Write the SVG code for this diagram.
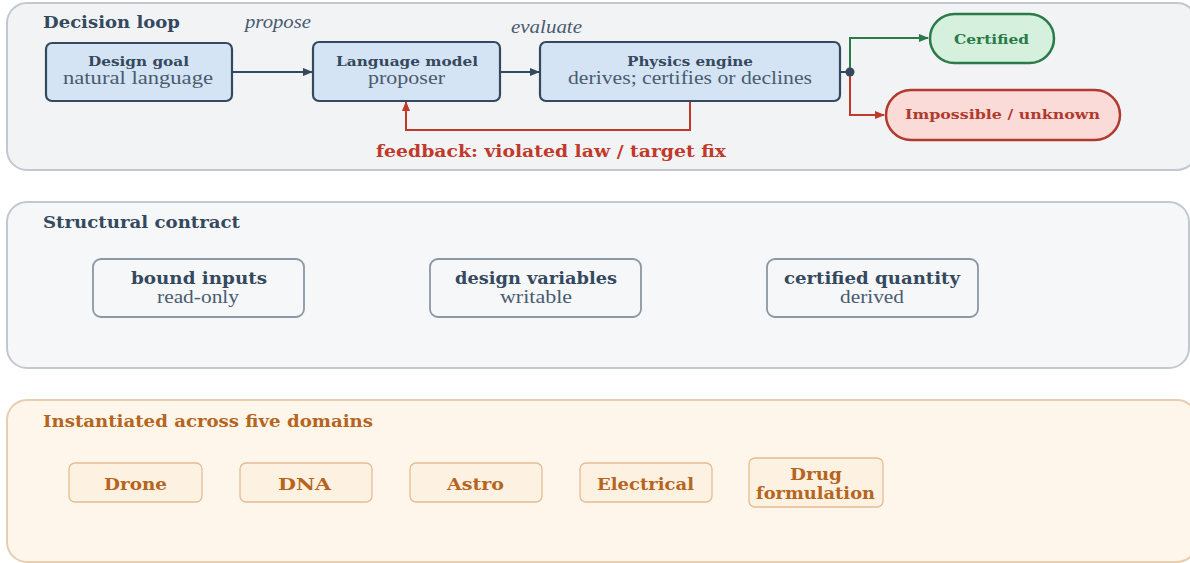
<svg xmlns="http://www.w3.org/2000/svg" width="1190" height="563" viewBox="0 0 1190 563" font-family="'DejaVu Serif', 'Liberation Serif', serif">
<defs>
<style>
.b{font-weight:bold}
.it{font-style:italic}
.dark{fill:#34495e}
.sub{fill:#4a5b70}
.panel1{fill:#f2f3f5;stroke:#c2c8d0;stroke-width:2}
.panel2{fill:#f5f7f9;stroke:#c2c8d0;stroke-width:2}
.panel3{fill:#fef5eb;stroke:#e8cdb0;stroke-width:2}
.blue{fill:#d4e4f4;stroke:#34495e;stroke-width:2.2}
.cnode{fill:#f5f7f9;stroke:#8a97a6;stroke-width:1.8}
.dnode{fill:#fdf1e2;stroke:#e2bd95;stroke-width:1.3}
.dtxt{fill:#b5651d;font-weight:bold;font-size:17px}
.conn{fill:none;stroke-width:2}
</style>
<marker id="ad" viewBox="0 0 10 10" refX="9" refY="5" markerWidth="10" markerHeight="10" markerUnits="userSpaceOnUse" orient="auto"><path d="M0,1 L10,5 L0,9 z" fill="#34495e"/></marker>
<marker id="ag" viewBox="0 0 10 10" refX="9" refY="5" markerWidth="10" markerHeight="10" markerUnits="userSpaceOnUse" orient="auto"><path d="M0,1 L10,5 L0,9 z" fill="#2a7a4a"/></marker>
<marker id="ar" viewBox="0 0 10 10" refX="9" refY="5" markerWidth="10" markerHeight="10" markerUnits="userSpaceOnUse" orient="auto"><path d="M0,1 L10,5 L0,9 z" fill="#c0392b"/></marker>
</defs>

<g id="panel-decision">
<rect class="panel1" x="7" y="3" width="1190" height="167" rx="20"/>
<text class="b dark" x="43" y="28" font-size="17" textLength="137" lengthAdjust="spacingAndGlyphs">Decision loop</text>
</g>
<g id="panel-contract">
<rect class="panel2" x="7" y="202" width="1182" height="166" rx="20"/>
<text class="b dark" x="43" y="228" font-size="17" textLength="197" lengthAdjust="spacingAndGlyphs">Structural contract</text>
</g>
<g id="panel-domains">
<rect class="panel3" x="7" y="400" width="1190" height="162" rx="20"/>
<text x="43" y="427" font-size="17" font-weight="bold" fill="#b5651d" textLength="330" lengthAdjust="spacingAndGlyphs">Instantiated across five domains</text>
</g>

<g id="connectors">
<path class="conn" d="M232,72 L312,72" stroke="#34495e" marker-end="url(#ad)"/>
<path class="conn" d="M500,72 L539,72" stroke="#34495e" marker-end="url(#ad)"/>
<path class="conn" d="M840,72 L850,72" stroke="#34495e" stroke-width="2.5"/>
<path class="conn" d="M850,72 L850,38 L928,38" stroke="#2a7a4a" stroke-width="2.5" marker-end="url(#ag)"/>
<path class="conn" d="M850,72 L850,115 L884,115" stroke="#c0392b" stroke-width="2.5" marker-end="url(#ar)"/>
<circle cx="850" cy="72" r="4.5" fill="#34495e"/>
<path class="conn" d="M690,101 L690,130 L406,130 L406,102" stroke="#c0392b" stroke-width="2.5" marker-end="url(#ar)"/>
<text class="it sub" font-family="'Liberation Serif', serif" x="245" y="28" font-size="19" textLength="66" lengthAdjust="spacingAndGlyphs">propose</text>
<text class="it sub" font-family="'Liberation Serif', serif" x="511" y="33" font-size="19" textLength="71" lengthAdjust="spacingAndGlyphs">evaluate</text>
<text class="b" x="376" y="157" font-size="17" fill="#c0392b" textLength="350" lengthAdjust="spacingAndGlyphs">feedback: violated law / target fix</text>
</g>

<g id="node-design-goal">
<rect class="blue" x="46" y="43" width="186" height="58" rx="6"/>
<text class="b dark" x="88" y="66" font-size="13.5" textLength="101" lengthAdjust="spacingAndGlyphs">Design goal</text>
<text class="sub" font-family="'Liberation Serif', serif" x="63" y="84" font-size="19" textLength="150" lengthAdjust="spacingAndGlyphs">natural language</text>
</g>
<g id="node-language-model">
<rect class="blue" x="313" y="42" width="187" height="59" rx="6"/>
<text class="b dark" x="336" y="66" font-size="13.5" textLength="142" lengthAdjust="spacingAndGlyphs">Language model</text>
<text class="sub" font-family="'Liberation Serif', serif" x="368" y="84" font-size="19" textLength="77" lengthAdjust="spacingAndGlyphs">proposer</text>
</g>
<g id="node-physics-engine">
<rect class="blue" x="540" y="42" width="300" height="59" rx="6"/>
<text class="b dark" x="627" y="66" font-size="13.5" textLength="126" lengthAdjust="spacingAndGlyphs">Physics engine</text>
<text class="sub" font-family="'Liberation Serif', serif" x="568" y="84" font-size="19" textLength="244" lengthAdjust="spacingAndGlyphs">derives; certifies or declines</text>
</g>
<g id="node-certified">
<rect x="930" y="14" width="124" height="49" rx="24.5" fill="#d5f0dc" stroke="#2a7a4a" stroke-width="2.5"/>
<text x="954" y="44" font-size="13.5" font-weight="bold" fill="#2a7a4a" textLength="75" lengthAdjust="spacingAndGlyphs">Certified</text>
</g>
<g id="node-impossible">
<rect x="886" y="90" width="234" height="50" rx="25" fill="#fadbd8" stroke="#b03a2e" stroke-width="2.5"/>
<text x="905" y="119" font-size="13.5" font-weight="bold" fill="#b03a2e" textLength="195" lengthAdjust="spacingAndGlyphs">Impossible / unknown</text>
</g>

<g id="node-bound-inputs">
<rect class="cnode" x="93" y="259" width="211" height="58" rx="8"/>
<text class="b dark" x="131" y="284" font-size="17" textLength="136" lengthAdjust="spacingAndGlyphs">bound inputs</text>
<text class="sub" font-family="'Liberation Serif', serif" x="157" y="303" font-size="18" textLength="82" lengthAdjust="spacingAndGlyphs">read-only</text>
</g>
<g id="node-design-variables">
<rect class="cnode" x="430" y="259" width="211" height="58" rx="8"/>
<text class="b dark" x="455" y="284" font-size="17" textLength="162" lengthAdjust="spacingAndGlyphs">design variables</text>
<text class="sub" font-family="'Liberation Serif', serif" x="500" y="303" font-size="18" textLength="72" lengthAdjust="spacingAndGlyphs">writable</text>
</g>
<g id="node-certified-quantity">
<rect class="cnode" x="767" y="259" width="211" height="58" rx="8"/>
<text class="b dark" x="784" y="284" font-size="17" textLength="176" lengthAdjust="spacingAndGlyphs">certified quantity</text>
<text class="sub" font-family="'Liberation Serif', serif" x="840" y="303" font-size="18" textLength="64" lengthAdjust="spacingAndGlyphs">derived</text>
</g>

<g id="node-drone">
<rect class="dnode" x="69" y="463" width="133" height="39" rx="6"/>
<text class="dtxt" x="104" y="490" textLength="63" lengthAdjust="spacingAndGlyphs">Drone</text>
</g>
<g id="node-dna">
<rect class="dnode" x="240" y="463" width="132" height="39" rx="6"/>
<text class="dtxt" x="278" y="490" textLength="53" lengthAdjust="spacingAndGlyphs">DNA</text>
</g>
<g id="node-astro">
<rect class="dnode" x="410" y="463" width="132" height="39" rx="6"/>
<text class="dtxt" x="447" y="490" textLength="57" lengthAdjust="spacingAndGlyphs">Astro</text>
</g>
<g id="node-electrical">
<rect class="dnode" x="580" y="463" width="132" height="39" rx="6"/>
<text class="dtxt" x="597" y="490" textLength="97" lengthAdjust="spacingAndGlyphs">Electrical</text>
</g>
<g id="node-drug">
<rect class="dnode" x="749" y="458" width="134" height="49" rx="6"/>
<text class="dtxt" x="790" y="480" textLength="52" lengthAdjust="spacingAndGlyphs">Drug</text>
<text class="dtxt" x="756" y="499" textLength="119" lengthAdjust="spacingAndGlyphs">formulation</text>
</g>
</svg>
